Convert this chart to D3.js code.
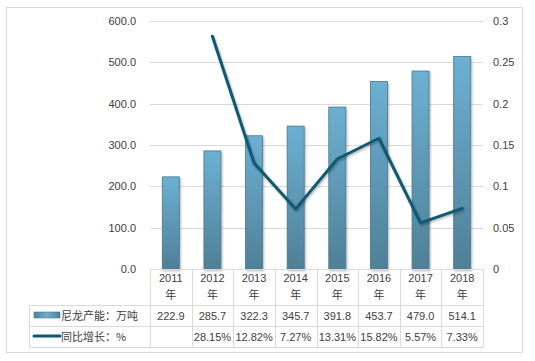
<!DOCTYPE html>
<html><head><meta charset="utf-8">
<script src="https://cdn.jsdelivr.net/npm/d3@7/dist/d3.min.js"></script>
<style>body{margin:0;background:#fff}svg{display:block}text{font-family:"Noto Sans CJK SC","Noto Sans",sans-serif}</style>
</head><body><svg id="c" width="535" height="361"></svg>
<script>
const years = ["2011","2012","2013","2014","2015","2016","2017","2018"];
const capacity = [222.9,285.7,322.3,345.7,391.8,453.7,479.0,514.1];
const growth = [null,0.2815,0.1282,0.0727,0.1331,0.1582,0.0557,0.0733];
const capLabels = ["222.9","285.7","322.3","345.7","391.8","453.7","479.0","514.1"];
const growthLabels = ["","28.15%","12.82%","7.27%","13.31%","15.82%","5.57%","7.33%"];
const leftTicks = [0,100,200,300,400,500,600];
const rightTicks = [0,0.05,0.1,0.15,0.2,0.25,0.3];
const seriesNames = ["尼龙产能：万吨","同比增长：%"];

const svg = d3.select("#c");
const L=150,R=483,T=21,B=269;
const x = d3.scaleBand().domain(years).range([L,R]);
const y = d3.scaleLinear().domain([0,600]).range([B,T]);
const y2 = d3.scaleLinear().domain([0,0.3]).range([B,T]);

const defs = svg.append("defs");
const g = defs.append("linearGradient").attr("id","bg").attr("x1",0).attr("y1",0).attr("x2",0).attr("y2",1);
g.append("stop").attr("offset","0%").attr("stop-color","#6cb0d2");
g.append("stop").attr("offset","100%").attr("stop-color","#4f8097");
const g2 = defs.append("linearGradient").attr("id","lg").attr("x1",0).attr("y1",0).attr("x2",1).attr("y2",0);
g2.append("stop").attr("offset","0%").attr("stop-color","#4f8097");
g2.append("stop").attr("offset","50%").attr("stop-color","#6cb0d2");
g2.append("stop").attr("offset","100%").attr("stop-color","#4f8097");
const f = defs.append("filter").attr("id","sh").attr("x","-10%").attr("y","-10%").attr("width","130%").attr("height","130%");
f.append("feDropShadow").attr("dx",1).attr("dy",1.5).attr("stdDeviation",1).attr("flood-color","#000").attr("flood-opacity",0.3);

// outer border
svg.append("rect").attr("x",6.5).attr("y",7.5).attr("width",516).attr("height",345).attr("fill","none").attr("stroke","#d9d9d9");

// gridlines
svg.append("g").selectAll("line").data(leftTicks.filter(d=>d>0)).join("line")
 .attr("x1",L).attr("x2",R).attr("y1",d=>Math.round(y(d))+0.5).attr("y2",d=>Math.round(y(d))+0.5)
 .attr("stroke","#d9d9d9");

// left axis labels
const axL = d3.axisLeft(y).tickValues(leftTicks).tickFormat(d3.format(".1f")).tickSize(0).tickPadding(0);
const gl = svg.append("g").attr("transform","translate(136,0)").call(axL);
gl.select(".domain").remove();
gl.selectAll("text").attr("fill","#404040").style("font-size","11px").style("font-family","'Liberation Sans',sans-serif");

const axR = d3.axisRight(y2).tickValues(rightTicks).tickFormat(d=>d3.format("")(+d.toFixed(2))).tickSize(0).tickPadding(0);
const gr = svg.append("g").attr("transform","translate(493,0)").call(axR);
gr.select(".domain").remove();
gr.selectAll("text").attr("fill","#404040").style("font-size","11px").style("font-family","'Liberation Sans',sans-serif");

// bars
const bw = 17;
svg.append("g").attr("filter","url(#sh)").selectAll("rect").data(capacity).join("rect")
 .attr("x",(d,i)=>x(years[i])+x.bandwidth()/2-bw/2).attr("width",bw)
 .attr("y",d=>y(d)).attr("height",d=>B-y(d))
 .attr("fill","url(#bg)").attr("stroke","#4a7890").attr("stroke-width",0.8);

// line
const pts = growth.map((d,i)=>[x(years[i])+x.bandwidth()/2, d]).filter(p=>p[1]!=null);
const line = d3.line().x(p=>p[0]).y(p=>y2(p[1]));
svg.append("path").attr("d",line(pts)).attr("fill","none").attr("stroke","#0f5a72").attr("stroke-width",3)
 .attr("stroke-linecap","round").attr("stroke-linejoin","round").attr("filter","url(#sh)");

// table
const tb = svg.append("g").attr("stroke","#d9d9d9").attr("fill","none");
const rows=[269.5,305.5,326.5,347.5];
tb.append("line").attr("x1",L).attr("x2",R).attr("y1",rows[0]).attr("y2",rows[0]);
[1,2,3].forEach(r=>tb.append("line").attr("x1",29.5).attr("x2",R).attr("y1",rows[r]).attr("y2",rows[r]));
tb.append("line").attr("x1",29.5).attr("x2",29.5).attr("y1",rows[1]).attr("y2",rows[3]);
years.forEach((yr,i)=>{const xx=Math.round(x(yr))+0.5;tb.append("line").attr("x1",xx).attr("x2",xx).attr("y1",rows[0]).attr("y2",rows[3]);});
tb.append("line").attr("x1",R+0.5).attr("x2",R+0.5).attr("y1",rows[0]).attr("y2",rows[3]);

const tx = svg.append("g").attr("fill","#404040").style("font-size","11px").attr("text-anchor","middle");
years.forEach((yr,i)=>{
  const cx = x(yr)+x.bandwidth()/2;
  tx.append("text").attr("x",cx).attr("y",282).text(yr).style("font-family","'Liberation Sans',sans-serif");
  tx.append("text").attr("x",cx).attr("y",299).text("年");
  tx.append("text").attr("x",cx).attr("y",320).text(capLabels[i]).style("font-family","'Liberation Sans',sans-serif");
  tx.append("text").attr("x",cx).attr("y",341).text(growthLabels[i]).style("font-family","'Liberation Sans',sans-serif");
});
// legend
svg.append("rect").attr("x",34).attr("y",312).attr("width",26).attr("height",6).attr("fill","url(#lg)").attr("stroke","#4a7890").attr("stroke-width",0.6);
svg.append("line").attr("x1",34).attr("x2",60).attr("y1",336).attr("y2",336).attr("stroke","#0f5a72").attr("stroke-width",3).attr("stroke-linecap","round");
svg.append("text").attr("x",61).attr("y",320).attr("fill","#404040").style("font-size","11px").text(seriesNames[0]);
svg.append("text").attr("x",61).attr("y",341).attr("fill","#404040").style("font-size","11px").text(seriesNames[1]);
</script></body></html>
